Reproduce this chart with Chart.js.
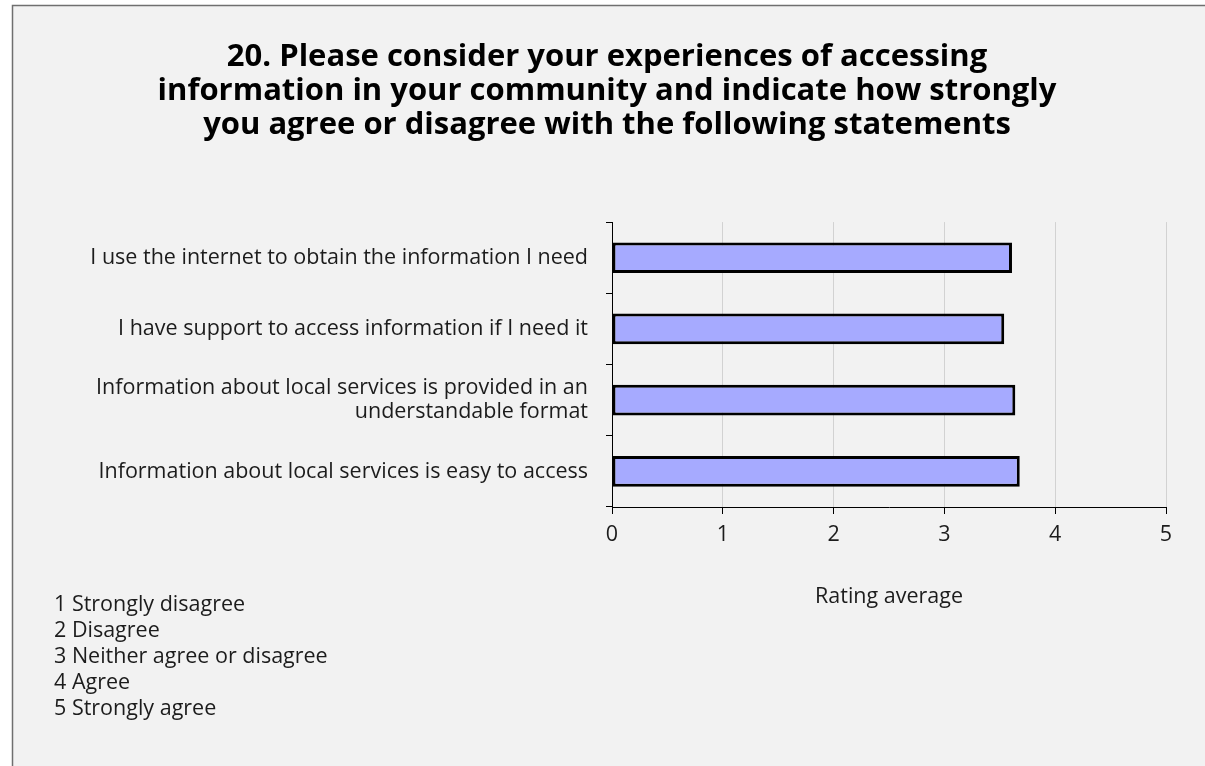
<!DOCTYPE html>
<html>
<head>
<meta charset="utf-8">
<script src="https://cdn.jsdelivr.net/npm/chart.js@4.4.1/dist/chart.umd.min.js"></script>
<style>
  html, body { margin: 0; padding: 0; background: #ffffff; }
  #wrap { position: absolute; left: 0; top: 0; width: 1205px; height: 766px; }
</style>
</head>
<body>
<div id="wrap"><canvas id="c" width="1205" height="766"></canvas></div>
<script>
// ---- data ----
const titleLines = [
  "20. Please consider your experiences of accessing",
  "information in your community and indicate how strongly",
  "you agree or disagree with the following statements"
];
const categories = [
  "I use the internet to obtain the information I need",
  "I have support to access information if I need it",
  ["Information about local services is provided in an", "understandable format"],
  "Information about local services is easy to access"
];
const ratingAverages = [3.61, 3.54, 3.64, 3.68];
const axisMin = 0;
const axisMax = 5;
const axisTitle = "Rating average";
const scaleNotes = [
  "1 Strongly disagree",
  "2 Disagree",
  "3 Neither agree or disagree",
  "4 Agree",
  "5 Strongly agree"
];

// ---- styles ----
const FONT = "'Open Sans', 'DejaVu Sans', sans-serif";
const TEXT = "#1c1c1c";

const framePlugin = {
  id: 'frame',
  beforeDraw(chart) {
    const ctx = chart.ctx;
    ctx.save();
    ctx.fillStyle = '#ffffff';
    ctx.fillRect(0, 0, chart.width, chart.height);
    ctx.fillStyle = '#f2f2f2';
    ctx.fillRect(12, 5, chart.width - 12, chart.height - 5);
    ctx.strokeStyle = '#6f6f6f';
    ctx.lineWidth = 1.5;
    ctx.beginPath();
    ctx.moveTo(12.5, chart.height + 2);
    ctx.lineTo(12.5, 5.5);
    ctx.lineTo(chart.width + 2, 5.5);
    ctx.stroke();
    ctx.restore();
  }
};

const notesPlugin = {
  id: 'notes',
  afterDraw(chart) {
    const ctx = chart.ctx;
    ctx.save();
    ctx.font = "21.5px " + FONT;
    ctx.fillStyle = TEXT;
    ctx.textAlign = 'left';
    ctx.textBaseline = 'alphabetic';
    scaleNotes.forEach((t, i) => {
      ctx.fillText(t, 54, 611 + i * 26);
    });
    ctx.restore();
  }
};

new Chart(document.getElementById('c'), {
  type: 'bar',
  data: {
    labels: categories,
    datasets: [{
      data: ratingAverages,
      backgroundColor: '#a6aaff',
      borderColor: '#000000',
      borderWidth: 3,
      borderSkipped: false,
      barPercentage: 0.43,
      categoryPercentage: 1.0
    }]
  },
  options: {
    indexAxis: 'y',
    responsive: false,
    animation: false,
    devicePixelRatio: 1,
    layout: { padding: { left: 48, right: 39, top: 0, bottom: 0 } },
    plugins: {
      legend: { display: false },
      tooltip: { enabled: false },
      title: {
        display: true,
        text: titleLines,
        color: '#000000',
        font: { family: FONT, size: 31, weight: 'bold', lineHeight: 1.087 },
        padding: { top: 40.5, bottom: 80.5 }
      }
    },
    scales: {
      x: {
        type: 'linear',
        min: axisMin,
        max: axisMax,
        ticks: {
          stepSize: 1,
          color: TEXT,
          font: { family: FONT, size: 21.5 },
          padding: 8
        },
        grid: {
          color: (c) => (c.tick && c.tick.value === 0) ? 'rgba(0,0,0,0)' : '#d2d2d2',
          tickColor: '#000000',
          tickLength: 7,
          lineWidth: 1
        },
        border: { display: true, color: '#000000', width: 1 },
        title: {
          display: true,
          text: axisTitle,
          color: TEXT,
          font: { family: FONT, size: 21.5, lineHeight: 1.2 },
          padding: { top: 0, bottom: 156 }
        },
        afterFit: (s) => { s.height = 259; }
      },
      y: {
        type: 'category',
        offset: true,
        ticks: {
          color: TEXT,
          font: { family: FONT, size: 21.5, lineHeight: 1.1 },
          padding: 18
        },
        grid: {
          display: true,
          drawOnChartArea: false,
          drawTicks: true,
          tickLength: 6,
          tickColor: '#000000',
          offset: true
        },
        border: { display: true, color: '#000000', width: 1 },
        afterFit: (s) => { s.width = 564; }
      }
    }
  },
  plugins: [framePlugin, notesPlugin]
});
</script>
</body>
</html>
